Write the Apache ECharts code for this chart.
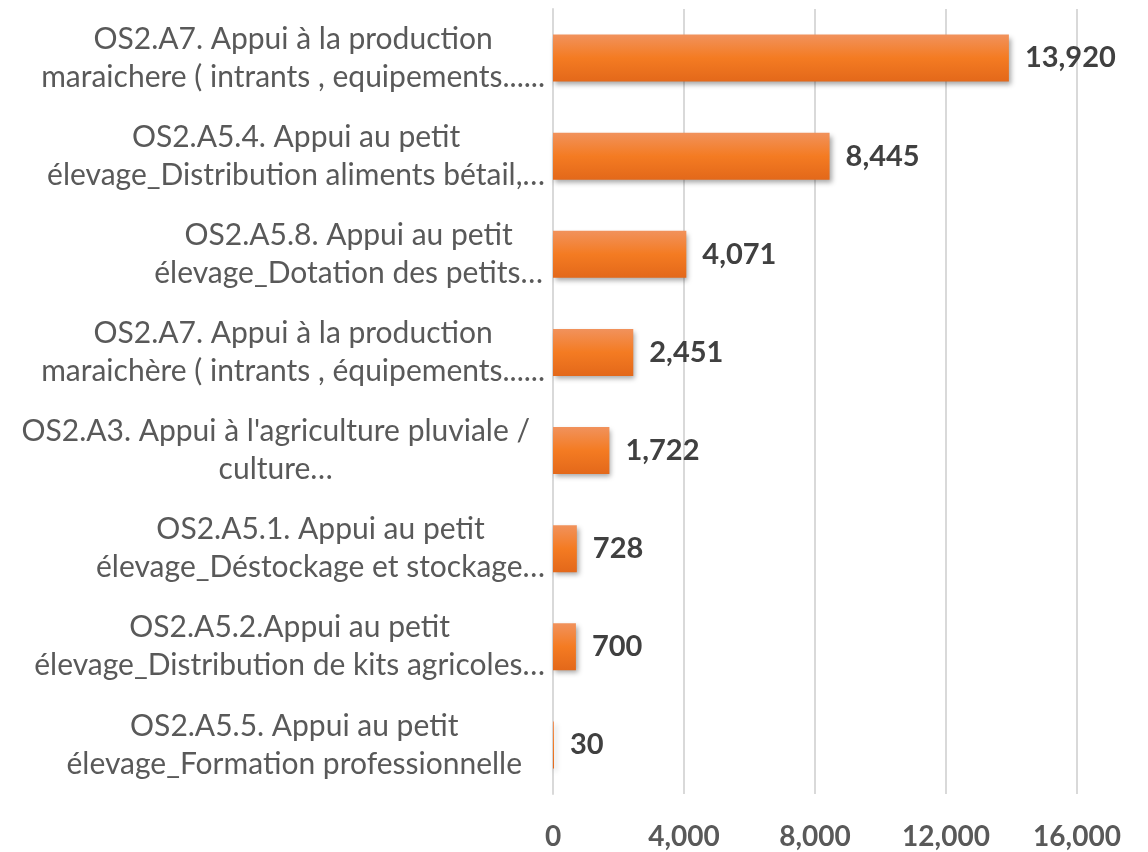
<!DOCTYPE html>
<html>
<head>
<meta charset="utf-8">
<script src="https://cdn.jsdelivr.net/npm/echarts@6/dist/echarts.min.js"></script>
<style>
html,body{margin:0;padding:0;background:#fff;}
#chart{width:1148px;height:852px;}
</style>
</head>
<body>
<div id="chart"></div>
<script>
// Data (top to bottom as shown)
var labelLine1 = [
  "OS2.A7. Appui à la production",
  "OS2.A5.4. Appui au petit",
  "OS2.A5.8. Appui au petit",
  "OS2.A7. Appui à la production",
  "OS2.A3. Appui à l'agriculture pluviale /",
  "OS2.A5.1. Appui au petit",
  "OS2.A5.2.Appui au petit",
  "OS2.A5.5. Appui au petit"
];
var labelLine2 = [
  "maraichere ( intrants , equipements......",
  "élevage_Distribution aliments bétail,…",
  "élevage_Dotation des petits…",
  "maraichère ( intrants , équipements......",
  "culture…",
  "élevage_Déstockage et stockage…",
  "élevage_Distribution de kits agricoles…",
  "élevage_Formation professionnelle"
];
var values = [13920, 8445, 4071, 2451, 1722, 728, 700, 30];
var xTicks = [0, 4000, 8000, 12000, 16000];

var categories = labelLine1.map(function (l, i) { return l + '\n' + labelLine2[i]; });
var labelPadRight = [0, 0, 2, 0, 15, 0, 0, 23];

var FONT = 'Lato';
var rich = {};
labelPadRight.forEach(function (p, i) {
  rich['c' + i] = {
    align: 'center',
    fontFamily: FONT,
    fontSize: 30,
    lineHeight: 38,
    color: '#595959',
    padding: [0, p, 0, 0]
  };
});

var chart = echarts.init(document.getElementById('chart'), null, {renderer: 'canvas'});
chart.setOption({
  animation: false,
  backgroundColor: '#ffffff',
  grid: {left: 553, top: 9, width: 524, height: 785, containLabel: false},
  xAxis: {
    type: 'value',
    min: xTicks[0],
    max: xTicks[xTicks.length - 1],
    interval: xTicks[1] - xTicks[0],
    axisLine: {show: false},
    axisTick: {show: false},
    splitLine: {show: true, lineStyle: {color: '#d9d9d9', width: 2}},
    axisLabel: {
      margin: 29,
      fontFamily: FONT,
      fontSize: 28,
      fontWeight: 'bold',
      color: '#595959',
      formatter: function (v) { return v.toLocaleString('en-US'); }
    }
  },
  yAxis: {
    type: 'category',
    inverse: true,
    data: categories,
    axisLine: {show: true, lineStyle: {color: '#d9d9d9', width: 2}},
    axisTick: {show: false},
    axisLabel: {
      margin: 8,
      formatter: function (v, i) {
        var parts = v.split('\n');
        return '{c' + i + '|' + parts[0] + '}\n{c' + i + '|' + parts[1] + '}';
      },
      rich: rich
    }
  },
  series: [{
    type: 'bar',
    data: values,
    barWidth: 47,
    itemStyle: {
      color: new echarts.graphic.LinearGradient(0, 0, 0, 1, [
        {offset: 0, color: '#f1925c'},
        {offset: 0.5, color: '#f47b22'},
        {offset: 1, color: '#e3681a'}
      ]),
      shadowColor: 'rgba(0,0,0,0.35)',
      shadowBlur: 5,
      shadowOffsetX: 2,
      shadowOffsetY: 3
    },
    label: {
      show: true,
      position: 'right',
      distance: 16,
      fontFamily: FONT,
      fontSize: 29,
      fontWeight: 'bold',
      color: '#404040',
      formatter: function (p) { return p.value.toLocaleString('en-US'); }
    }
  }]
});
</script>
</body>
</html>
